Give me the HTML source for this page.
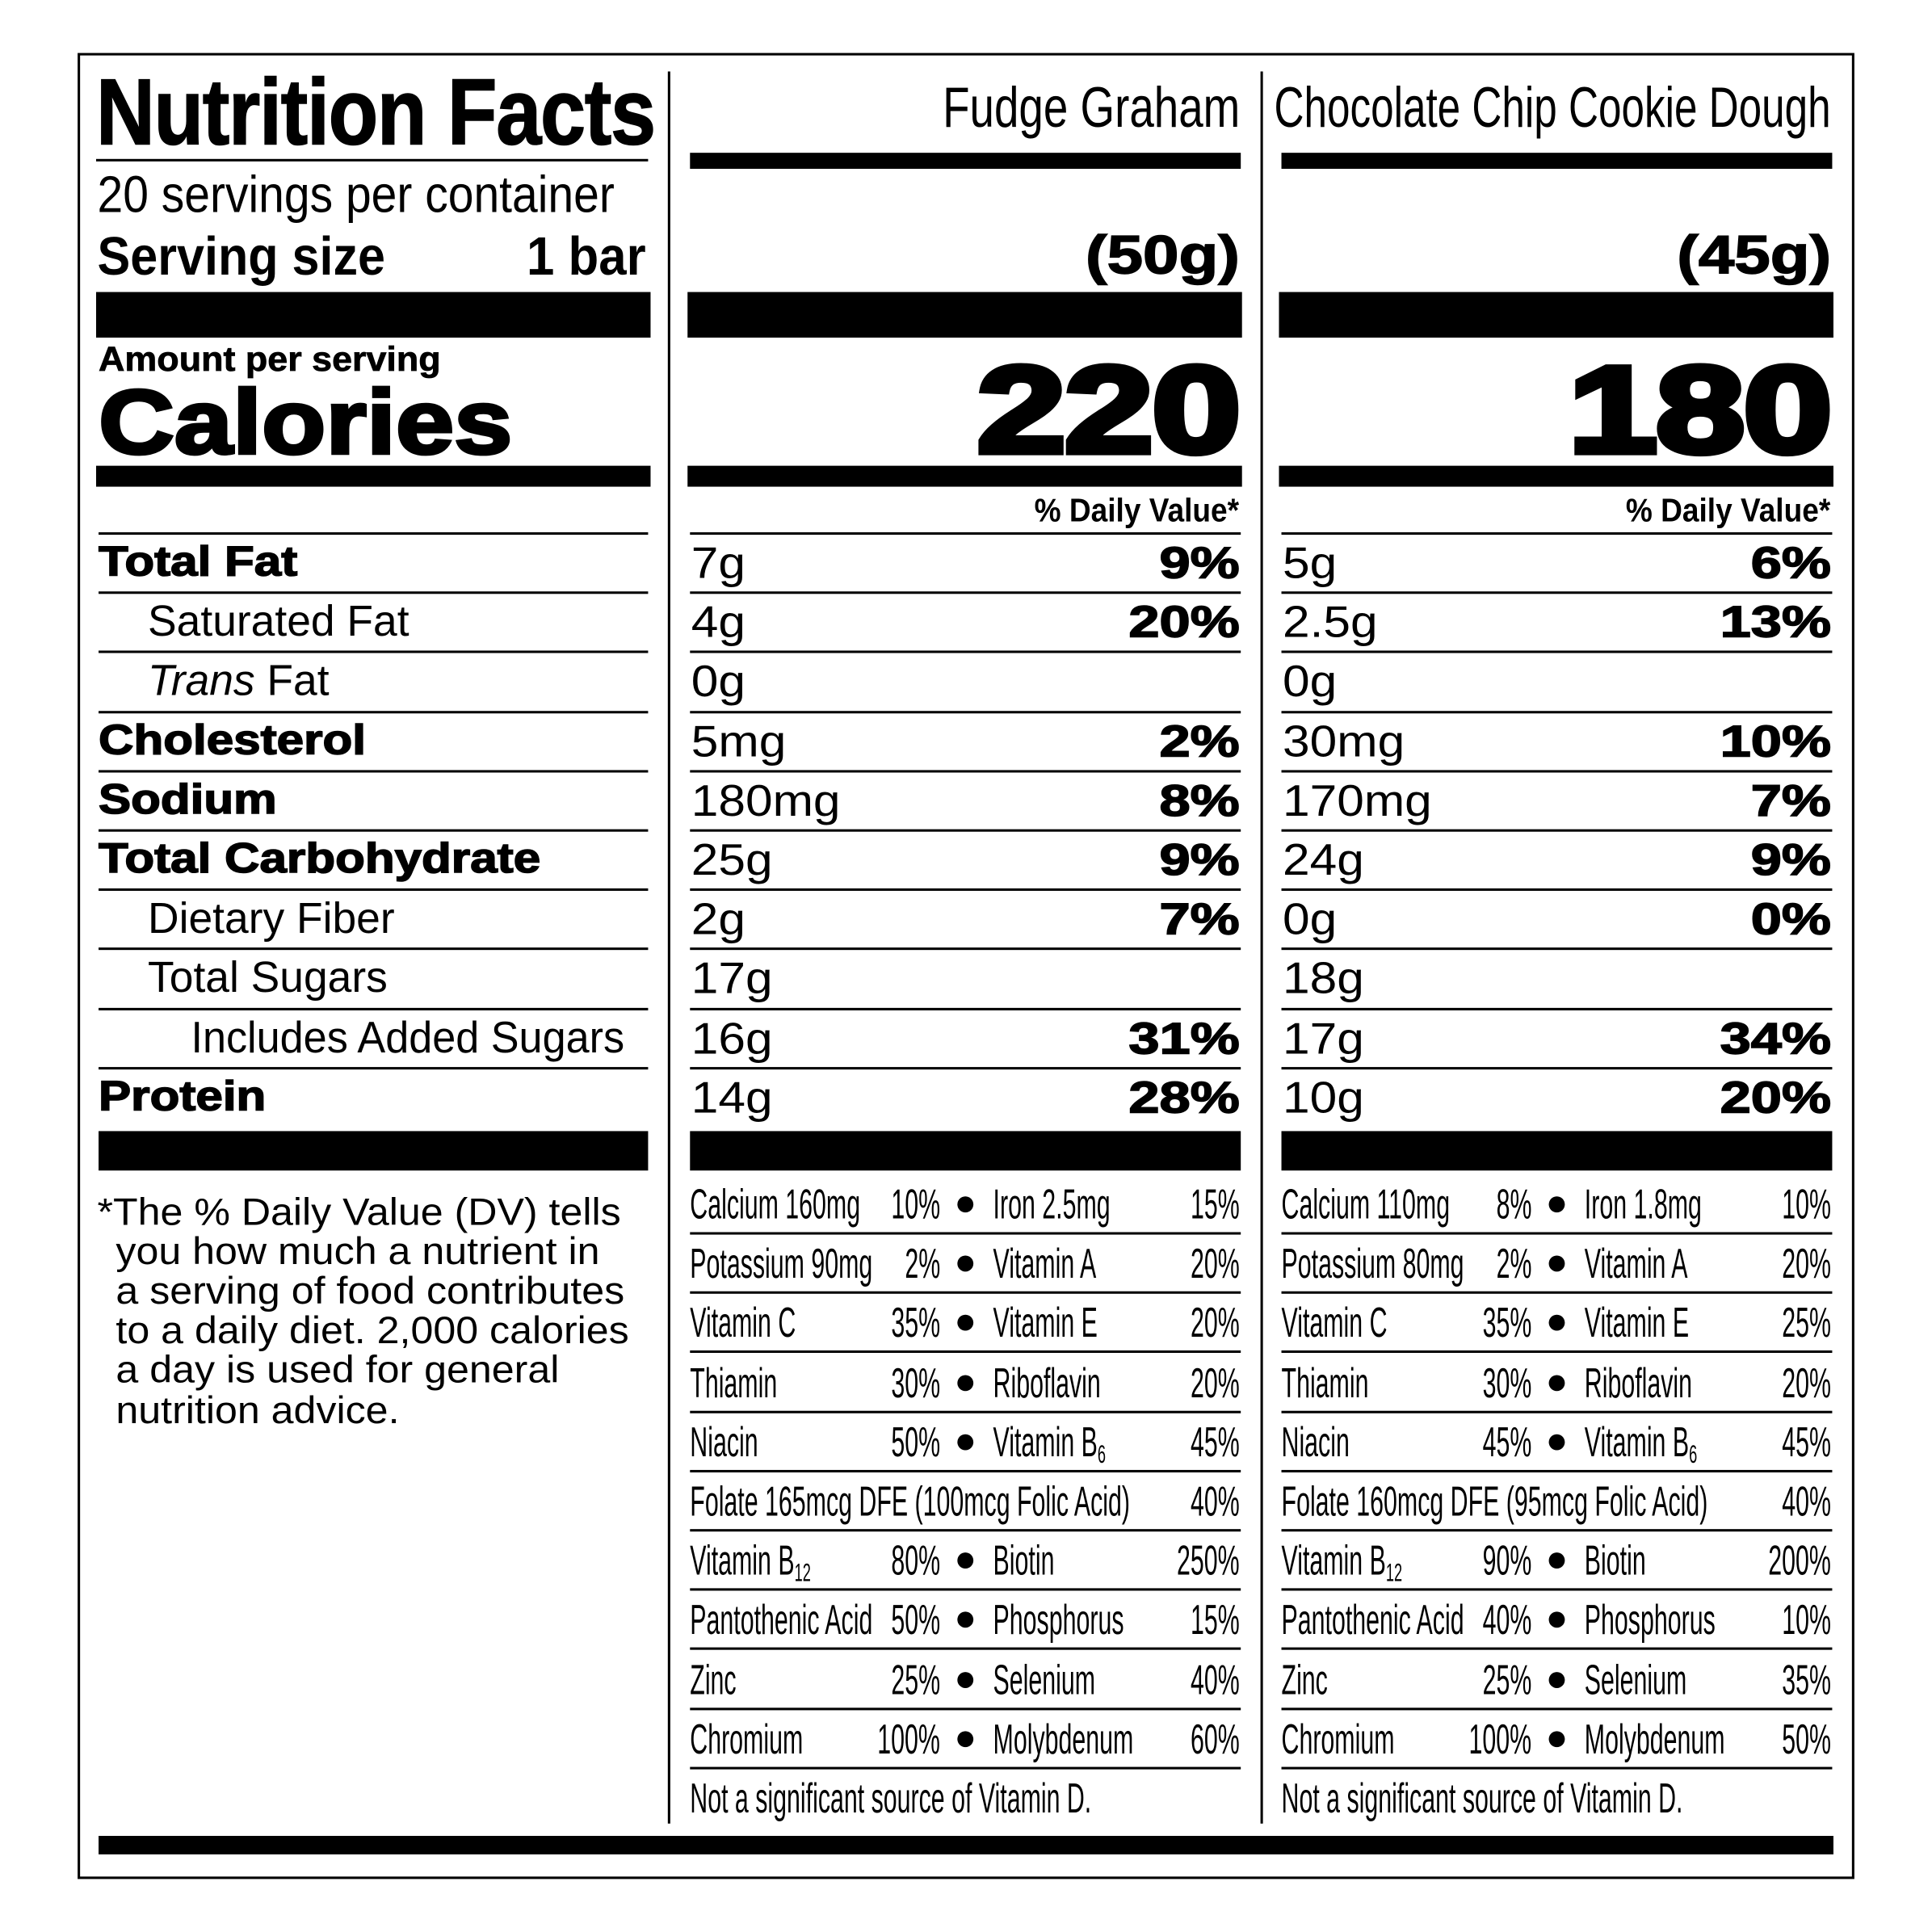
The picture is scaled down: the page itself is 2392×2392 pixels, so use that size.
<!DOCTYPE html>
<html><head><meta charset="utf-8">
<style>
html,body{margin:0;padding:0;background:#fff;}
#wrap{width:2392px;height:2392px;overflow:hidden;position:relative;background:#fff;}
#c{position:absolute;left:0;top:0;width:1568px;height:1568px;transform:scale(1.52551);transform-origin:0 0;}
.a{position:absolute;white-space:nowrap;line-height:1;color:#000;}
.r{position:absolute;background:#000;}
.n{font-family:"Liberation Sans",sans-serif;}
.s{font-family:"Liberation Sans",sans-serif;}
.b{font-weight:bold;}
sub{font-size:60%;vertical-align:-0.25em;line-height:0;}
</style></head><body>
<div id="wrap"><div id="c"></div></div>
<script>
var c=document.getElementById('c');
function R(x,y,w,h){var d=document.createElement('div');d.className='r';d.style.cssText='left:'+x+'px;top:'+y+'px;width:'+w+'px;height:'+h+'px';c.appendChild(d);}
function T(html,x,yc,size,cls,align,sx,extra){var d=document.createElement('div');d.className='a '+cls;d.innerHTML=html;
d.style.fontSize=size+'px';d.style.top=(yc-size*0.5)+'px';sx=sx||1;
if(align=='r'){d.style.right=(1568-x)+'px';d.style.transformOrigin='100% 50%';}else{d.style.left=x+'px';d.style.transformOrigin='0 50%';}
d.style.transform='scaleX('+sx+')';if(extra)d.style.cssText+=extra;c.appendChild(d);}
var bd=document.createElement('div');bd.style.cssText='position:absolute;left:63px;top:43px;width:1438px;height:1478px;border:2px solid #000';c.appendChild(bd);
R(542,58,2,1422);R(1023,58,2,1422);
T('Nutrition Facts',78,92,76,'n b','l',0.87,'letter-spacing:-1px;-webkit-text-stroke:1px #000');
R(78,129,448,2);
T('20 servings per container',79,158,42,'n','l',0.89);
T('Serving size',79,209,44,'n b','l',0.91);
T('1 bar',524,209,44,'n b','r',0.92);
R(78,237,450,37);
T('Amount per serving',80,292,28,'s b','l',1.05,'-webkit-text-stroke:0.5px #000');
T('Calories',80,343,74,'s b','l',1.15,'-webkit-text-stroke:2.5px #000');
R(78,378,450,17);
var cols=[{x:560,w:447,name:'Fudge Graham',ns:0.78,g:'(50g)',cal:'220',
 vals:[['7g','9%'],['4g','20%'],['0g',''],['5mg','2%'],['180mg','8%'],['25g','9%'],['2g','7%'],['17g',''],['16g','31%'],['14g','28%']],
 vit:[['Calcium 160mg','10%','Iron 2.5mg','15%'],['Potassium 90mg','2%','Vitamin A','20%'],['Vitamin C','35%','Vitamin E','20%'],['Thiamin','30%','Riboflavin','20%'],['Niacin','50%','Vitamin B<sub>6</sub>','45%'],['Folate 165mcg DFE (100mcg Folic Acid)','','','40%'],['Vitamin B<sub>12</sub>','80%','Biotin','250%'],['Pantothenic Acid','50%','Phosphorus','15%'],['Zinc','25%','Selenium','40%'],['Chromium','100%','Molybdenum','60%']]},
 {x:1040,w:447,name:'Chocolate Chip Cookie Dough',ns:0.73,g:'(45g)',cal:'180',
 vals:[['5g','6%'],['2.5g','13%'],['0g',''],['30mg','10%'],['170mg','7%'],['24g','9%'],['0g','0%'],['18g',''],['17g','34%'],['10g','20%']],
 vit:[['Calcium 110mg','8%','Iron 1.8mg','10%'],['Potassium 80mg','2%','Vitamin A','20%'],['Vitamin C','35%','Vitamin E','25%'],['Thiamin','30%','Riboflavin','20%'],['Niacin','45%','Vitamin B<sub>6</sub>','45%'],['Folate 160mcg DFE (95mcg Folic Acid)','','','40%'],['Vitamin B<sub>12</sub>','90%','Biotin','200%'],['Pantothenic Acid','40%','Phosphorus','10%'],['Zinc','25%','Selenium','35%'],['Chromium','100%','Molybdenum','50%']]}];
var labels=[['Total Fat',80,1],['Saturated Fat',120,0],['<i>Trans</i> Fat',120,0],['Cholesterol',80,1],['Sodium',80,1],['Total Carbohydrate',80,1],['Dietary Fiber',120,0],['Total Sugars',120,0],['Includes Added Sugars',155,0],['Protein',80,1]];
for(var i=0;i<10;i++){var yc=456+i*48.2;var L=labels[i];
 if(L[2])T(L[0],L[1],yc,34,'s b','l',1.16,'-webkit-text-stroke:1px #000');else if(i==8)T(L[0],L[1],yc,36,'n','l',0.95);else T(L[0],L[1],yc,35,'s','l',1.0);
 R(80,432+i*48.2,446,2);}
R(80,918,446,32);
var fn=['*The % Daily Value (DV) tells','you how much a nutrient in','a serving of food contributes','to a daily diet. 2,000 calories','a day is used for general','nutrition advice.'];
for(var i=0;i<6;i++)T(fn[i],i?94:79,983+i*32.2,31,'s','l',1.06);
var VS=0.585;
cols.forEach(function(o){var x=o.x,re=o.x+o.w-1;
 T(o.name,re,87,46,'n','r',o.ns);
 R(x,124,o.w,13);
 T(o.g,re,208,44,'s b','r',1.19,'-webkit-text-stroke:1px #000');
 R(x-2,237,o.w+3,37);
 T(o.cal,re,333,100,'s b','r',1.3,'-webkit-text-stroke:5px #000;letter-spacing:-1px');
 R(x-2,378,o.w+3,17);
 T('% Daily Value*',re,414,27,'n b','r',0.9);
 for(var i=0;i<10;i++){var yc=457+i*48.2;
  R(x,432+i*48.2,o.w,2);
  T(o.vals[i][0],x+1,yc,36,'s','l',1.1);
  if(o.vals[i][1])T(o.vals[i][1],re,yc,36,'s b','r',1.25,'-webkit-text-stroke:1px #000');}
 R(x,918,o.w,32);
 for(var i=0;i<10;i++){var yc=978+i*48.2;var v=o.vit[i];
  T(v[0],x,yc,34,'n','l',VS);
  if(v[1])T(v[1],x+203,yc,34,'n','r',VS);
  if(v[2]){var d=document.createElement('div');d.className='r';d.style.cssText='left:'+(x+217)+'px;top:'+(yc-7)+'px;width:13px;height:13px;border-radius:50%';c.appendChild(d);
   T(v[2],x+246,yc,34,'n','l',VS);}
  T(v[3],re,yc,34,'n','r',VS);
  R(x,1000+i*48.2,o.w,2);}
 T('Not a significant source of Vitamin D.',x,1460,34,'n','l',VS);
});
R(80,1490,1408,15);
</script>
</body></html>
